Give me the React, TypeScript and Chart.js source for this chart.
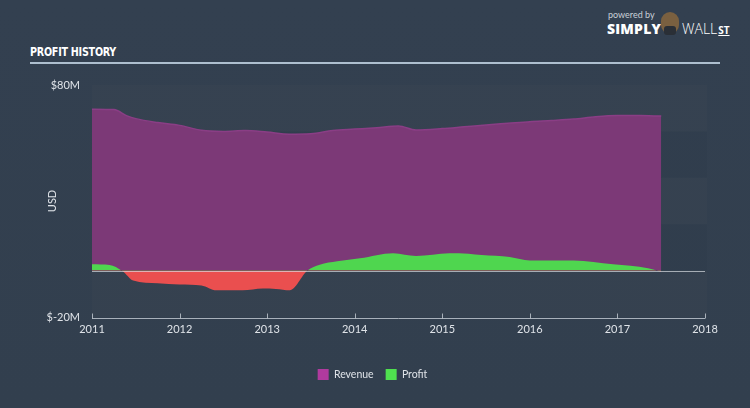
import { useEffect, useRef } from "react";
import { Chart, registerables } from "chart.js";
Chart.register(...registerables);

const revenueYears = [2011.0, 2011.25, 2011.4, 2011.5, 2011.75, 2012.0, 2012.25, 2012.5, 2012.75, 2013.0, 2013.25, 2013.5, 2013.75, 2014.0, 2014.25, 2014.5, 2014.7, 2015.0, 2015.25, 2015.5, 2015.75, 2016.0, 2016.25, 2016.5, 2016.75, 2017.0, 2017.25, 2017.5];
const revenueValues = [69.6, 69.4, 66.7, 65.5, 63.8, 62.6, 60.5, 60.0, 60.4, 59.7, 58.8, 59.0, 60.4, 61.0, 61.6, 62.3, 60.6, 61.2, 62.0, 62.8, 63.5, 64.2, 64.7, 65.3, 66.3, 66.8, 66.8, 66.6];
const profitYears = [2011.0, 2011.2, 2011.35, 2011.47, 2011.75, 2012.0, 2012.25, 2012.42, 2012.72, 2012.95, 2013.1, 2013.26, 2013.46, 2013.6, 2013.8, 2014.06, 2014.44, 2014.7, 2015.08, 2015.3, 2015.45, 2015.77, 2016.0, 2016.5, 2016.95, 2017.35, 2017.5];
const profitValues = [2.7, 2.4, -0.3, -4.3, -5.5, -6.0, -6.4, -8.5, -8.5, -7.7, -7.9, -8.5, 0.0, 2.5, 4.0, 5.3, 7.5, 6.3, 7.5, 7.3, 6.7, 5.9, 4.4, 4.4, 2.7, 1.0, -0.5];
const xTickYears = [2011, 2012, 2013, 2014, 2015, 2016, 2017, 2018];
const yLabelValues = [80, -20];
const seriesNames = ["Revenue", "Profit"];

const FONT = "Lato, 'Open Sans', sans-serif";

export default function App() {
  const ref = useRef<HTMLCanvasElement>(null);
  useEffect(() => {
    if (!ref.current) return;
    const deco = {
      id: "deco",
      beforeDatasetsDraw(chart: any) {
        const { ctx, chartArea: a, scales } = chart;
        const y = scales.y;
        ctx.save();
        ctx.fillStyle = "rgba(0,0,0,0.025)";
        ctx.fillRect(a.left, a.top, a.right - a.left + 2, a.bottom - a.top);
        ctx.fillStyle = "rgba(255,255,255,0.018)";
        const bands = [[80, 60], [40, 20], [0, -20]];
        for (const [h, l] of bands) {
          const t = y.getPixelForValue(h);
          const b = y.getPixelForValue(l);
          ctx.fillRect(a.left, t, a.right - a.left + 2, b - t);
        }
        ctx.restore();
      },
      afterDatasetsDraw(chart: any) {
        const { ctx, chartArea: a, scales } = chart;
        const y = scales.y;
        const x = scales.x;
        ctx.save();
        const z = Math.round(y.getPixelForValue(0)) + 0.5;
        ctx.strokeStyle = "rgba(215,220,225,0.7)";
        ctx.lineWidth = 1.2;
        ctx.beginPath();
        ctx.moveTo(a.left, z);
        ctx.lineTo(a.right, z);
        ctx.stroke();
        const by = Math.round(a.bottom) + 1.5;
        ctx.strokeStyle = "rgba(190,198,206,0.85)";
        ctx.lineWidth = 1;
        ctx.beginPath();
        ctx.moveTo(a.left, by);
        ctx.lineTo(a.right, by);
        for (const yr of xTickYears) {
          const px = Math.round(x.getPixelForValue(yr)) + 0.5;
          ctx.moveTo(px, by);
          ctx.lineTo(px, by - 5);
        }
        ctx.stroke();
        ctx.restore();
      },
    };
    const chart = new Chart(ref.current, {
      type: "line",
      data: {
        datasets: [
          {
            label: seriesNames[0],
            data: revenueYears.map((yr, i) => ({ x: yr, y: revenueValues[i] })),
            borderColor: "#8a3e85",
            borderWidth: 1.5,
            backgroundColor: "#7c3977",
            fill: "origin",
            pointRadius: 0,
            cubicInterpolationMode: "monotone",
            order: 2,
          },
          {
            label: seriesNames[1],
            data: profitYears.map((yr, i) => ({ x: yr, y: profitValues[i] })),
            borderWidth: 0,
            borderColor: "rgba(0,0,0,0)",
            fill: { target: "origin", above: "#4fd64f", below: "#ea4f4f" },
            pointRadius: 0,
            cubicInterpolationMode: "monotone",
            order: 1,
          },
        ],
      },
      options: {
        animation: false,
        responsive: true,
        maintainAspectRatio: false,
        layout: { padding: { left: 40, right: 45, top: 85, bottom: 18 } },
        plugins: {
          tooltip: { enabled: false },
          legend: {
            position: "bottom",
            labels: {
              boxWidth: 11,
              boxHeight: 11,
              padding: 12,
              color: "#dfe3e8",
              font: { size: 10.5, family: FONT },
              generateLabels: () => [
                { text: seriesNames[0], fillStyle: "#b03a9e", strokeStyle: "rgba(0,0,0,0)", lineWidth: 0, datasetIndex: 0, hidden: false, fontColor: "#dfe3e8" },
                { text: seriesNames[1], fillStyle: "#4fe04f", strokeStyle: "rgba(0,0,0,0)", lineWidth: 0, datasetIndex: 1, hidden: false, fontColor: "#dfe3e8" },
              ],
            },
          },
        },
        scales: {
          x: {
            type: "linear",
            min: 2011,
            max: 2018,
            grid: { display: false, drawTicks: false },
            border: { display: false },
            afterFit: (s: any) => { s.height = 40; },
            ticks: {
              stepSize: 1,
              padding: 6,
              color: "#dfe3e8",
              font: { size: 11, family: FONT },
              callback: (v: any) => (xTickYears.includes(Number(v)) ? String(v) : ""),
              maxRotation: 0,
            },
          },
          y: {
            min: -20,
            max: 80,
            grid: { display: false, drawTicks: false },
            border: { display: false },
            afterFit: (s: any) => { s.width = 52; },
            title: { display: true, text: "USD", color: "#dfe3e8", font: { size: 11, family: FONT }, padding: { top: 6, bottom: 0 } },
            ticks: {
              stepSize: 20,
              padding: 12,
              color: "#dfe3e8",
              font: { size: 11, family: FONT },
              callback: (v: any) => (yLabelValues.includes(Number(v)) ? "$" + v + "M" : ""),
            },
          },
        },
      },
      plugins: [deco],
    });
    return () => chart.destroy();
  }, []);

  return (
    <div style={{ position: "absolute", left: 0, top: 0, width: 750, height: 408, background: "linear-gradient(180deg, #334050 0%, #323f4e 100%)", overflow: "hidden", fontFamily: FONT }}>
      <div style={{ position: "absolute", left: 30, top: 44, color: "#ffffff", fontFamily: "'DejaVu Sans Condensed', 'Liberation Sans Narrow', sans-serif", fontWeight: 700, fontSize: 13, letterSpacing: -0.3, transform: "scaleX(0.82)", transformOrigin: "left top" }}>PROFIT HISTORY</div>
      <div style={{ position: "absolute", left: 30, top: 62, width: 690, height: 2, background: "#aebfcf" }} />
      <div style={{ position: "absolute", left: 608, top: 9, color: "#c9d0d8", fontSize: 9 }}>powered by</div>
      <div style={{ position: "absolute", left: 607, top: 19, color: "#ffffff", fontSize: 14, fontWeight: 900, fontFamily: "'Open Sans', sans-serif", letterSpacing: 0.2 }}>SIMPLY</div>
      <div style={{ position: "absolute", left: 661, top: 12, width: 18, height: 22, borderRadius: 9, background: "#7a6040" }} />
      <div style={{ position: "absolute", left: 664, top: 26, width: 12, height: 9, borderRadius: 3, background: "#2a2f36" }} />
      <div style={{ position: "absolute", left: 682, top: 19, color: "#ffffff", fontSize: 14, fontWeight: 300, fontFamily: "'Open Sans', sans-serif" }}>WALL<span style={{ fontSize: 10, fontWeight: 700, textDecoration: "underline", marginLeft: 1 }}>ST</span></div>
      <div style={{ position: "absolute", left: 0, top: 0, width: 750, height: 408 }}>
        <canvas ref={ref} />
      </div>
    </div>
  );
}
